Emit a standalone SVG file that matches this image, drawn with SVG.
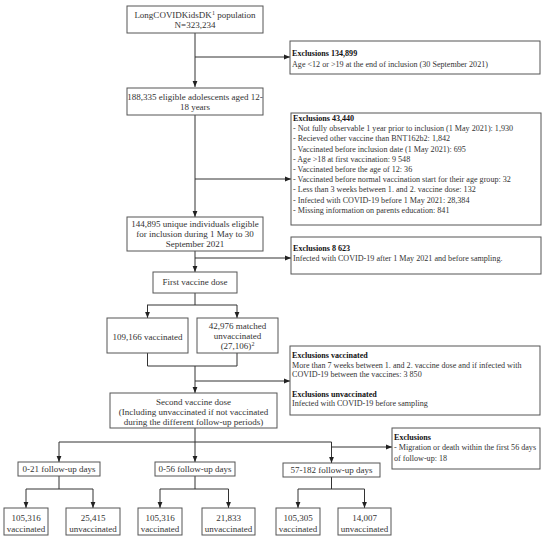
<svg xmlns="http://www.w3.org/2000/svg" width="550" height="542" viewBox="0 0 550 542">
<style>
text{font-family:"Liberation Serif","Times New Roman",serif;font-size:9px;fill:#333}
.x text{font-size:8.1px}
.c{text-anchor:middle}
.b{font-weight:bold;fill:#111}
rect{fill:#fff;stroke:#555;stroke-width:1}
.ln{fill:none;stroke:#333;stroke-width:1}
</style>
<defs>
<marker id="ah" viewBox="0 0 10 10" refX="10" refY="5" markerWidth="6" markerHeight="6" markerUnits="userSpaceOnUse" orient="auto">
<path d="M0,1 L10,5 L0,9 Z" fill="#222"/>
</marker>
</defs>
<rect x="0" y="0" width="550" height="542" style="fill:#fff;stroke:none"/>

<g id="connectors">
<path class="ln" d="M195,33 V87" marker-end="url(#ah)"/>
<path class="ln" d="M195,57 H290" marker-end="url(#ah)"/>
<path class="ln" d="M195,115 V217" marker-end="url(#ah)"/>
<path class="ln" d="M195,179 H291" marker-end="url(#ah)"/>
<path class="ln" d="M195,251 V272" marker-end="url(#ah)"/>
<path class="ln" d="M195,258 H291" marker-end="url(#ah)"/>
<path class="ln" d="M195,293 V305 M147,305 H237"/>
<path class="ln" d="M147.5,305 V318" marker-end="url(#ah)"/>
<path class="ln" d="M237,305 V318" marker-end="url(#ah)"/>
<path class="ln" d="M147.5,353 V366 H237 V353"/>
<path class="ln" d="M195,366 V393" marker-end="url(#ah)"/>
<path class="ln" d="M195,381 H290" marker-end="url(#ah)"/>
<path class="ln" d="M195,428 V442 M59,442 H331.5"/>
<path class="ln" d="M59,442 V462" marker-end="url(#ah)"/>
<path class="ln" d="M195,442 V462" marker-end="url(#ah)"/>
<path class="ln" d="M331.5,442 V463" marker-end="url(#ah)"/>
<path class="ln" d="M331.5,447 H392" marker-end="url(#ah)"/>
<path class="ln" d="M59,476 V489 M26,489 H93"/>
<path class="ln" d="M26,489 V508" marker-end="url(#ah)"/>
<path class="ln" d="M93,489 V508" marker-end="url(#ah)"/>
<path class="ln" d="M195,476 V489 M160,489 H228.5"/>
<path class="ln" d="M160,489 V508" marker-end="url(#ah)"/>
<path class="ln" d="M228.5,489 V508" marker-end="url(#ah)"/>
<path class="ln" d="M331.5,477 V489 M298,489 H364.5"/>
<path class="ln" d="M298,489 V508" marker-end="url(#ah)"/>
<path class="ln" d="M364.5,489 V508" marker-end="url(#ah)"/>
</g>

<g id="population">
<rect x="127" y="6" width="136" height="27"/>
<text class="c" x="195" y="18">LongCOVIDKidsDK<tspan font-size="6" dy="-3">1</tspan><tspan dy="3"> population</tspan></text>
<text class="c" x="195" y="28">N=323,234</text>
</g>

<g id="excl1" class="x">
<rect x="290" y="41" width="250" height="33"/>
<text class="b" x="292" y="56">Exclusions 134,899</text>
<text x="292" y="67">Age &lt;12 or &gt;19 at the end of inclusion (30 September 2021)</text>
</g>

<g id="eligible">
<rect x="127" y="88" width="136" height="27"/>
<text class="c" x="195" y="100">188,335 eligible adolescents aged 12-</text>
<text class="c" x="195" y="110">18 years</text>
</g>

<g id="excl2" class="x">
<rect x="291" y="113" width="250" height="112"/>
<text class="b" x="293" y="121">Exclusions 43,440</text>
<text x="293" y="131.2">- Not fully observable 1 year prior to inclusion (1 May 2021): 1,930</text>
<text x="293" y="141.4">- Recieved other vaccine than BNT162b2: 1,842</text>
<text x="293" y="151.6">- Vaccinated before inclusion date (1 May 2021): 695</text>
<text x="293" y="161.8">- Age &gt;18 at first vaccination: 9 548</text>
<text x="293" y="172">- Vaccinated before the age of 12: 36</text>
<text x="293" y="182.2">- Vaccinated before normal vaccination start for their age group: 32</text>
<text x="293" y="192.4">- Less than 3 weeks between 1. and 2. vaccine dose: 132</text>
<text x="293" y="202.6">- Infected with COVID-19 before 1 May 2021: 28,384</text>
<text x="293" y="212.8">- Missing information on parents education: 841</text>
</g>

<g id="unique">
<rect x="127" y="217" width="136" height="34"/>
<text class="c" x="195" y="227">144,895 unique individuals eligible</text>
<text class="c" x="195" y="237">for inclusion during 1 May to 30</text>
<text class="c" x="195" y="247">September 2021</text>
</g>

<g id="excl3" class="x">
<rect x="291" y="237" width="250" height="37"/>
<text class="b" x="293" y="251">Exclusions 8 623</text>
<text x="293" y="261">Infected with COVID-19 after 1 May 2021 and before sampling.</text>
</g>

<g id="first-dose">
<rect x="153" y="272" width="84" height="21"/>
<text class="c" x="195" y="285">First vaccine dose</text>
</g>

<g id="vaccinated">
<rect x="107" y="318" width="81" height="35"/>
<text class="c" x="147.5" y="340">109,166 vaccinated</text>
</g>

<g id="unvaccinated">
<rect x="197" y="318" width="81" height="35"/>
<text class="c" x="237.5" y="329">42,976 matched</text>
<text class="c" x="237.5" y="339">unvaccinated</text>
<text class="c" x="237.5" y="349">(27,106)<tspan font-size="6" dy="-3">2</tspan></text>
</g>

<g id="excl4" class="x">
<rect x="290" y="346" width="250" height="69"/>
<text class="b" x="292" y="358">Exclusions vaccinated</text>
<text x="292" y="368">More than 7 weeks between 1. and 2. vaccine dose and if infected with</text>
<text x="292" y="377">COVID-19 between the vaccines: 3 850</text>
<text class="b" x="292" y="397">Exclusions unvaccinated</text>
<text x="292" y="406">Infected with COVID-19 before sampling</text>
</g>

<g id="second-dose">
<rect x="110" y="393" width="167" height="35"/>
<text class="c" x="193.5" y="405">Second vaccine dose</text>
<text class="c" x="193.5" y="415">(Including unvaccinated if not vaccinated</text>
<text class="c" x="193.5" y="425">during the different follow-up periods)</text>
</g>

<g id="excl5" class="x">
<rect x="392" y="428" width="148" height="41"/>
<text class="b" x="394" y="440">Exclusions</text>
<text x="394" y="450">- Migration or death within the first 56 days</text>
<text x="394" y="461">of follow-up: 18</text>
</g>

<g id="fu21">
<rect x="18" y="462" width="82" height="14"/>
<text class="c" x="59" y="472">0-21 follow-up days</text>
</g>
<g id="fu56">
<rect x="155" y="462" width="80" height="14"/>
<text class="c" x="195" y="472">0-56 follow-up days</text>
</g>
<g id="fu182">
<rect x="283" y="463" width="97" height="14"/>
<text class="c" x="331.5" y="473">57-182 follow-up days</text>
</g>

<g id="r21v">
<rect x="4" y="508" width="44" height="27"/>
<text class="c" x="26" y="521">105,316</text>
<text class="c" x="26" y="532">vaccinated</text>
</g>
<g id="r21u">
<rect x="66" y="508" width="54" height="27"/>
<text class="c" x="93" y="521">25,415</text>
<text class="c" x="93" y="532">unvaccinated</text>
</g>
<g id="r56v">
<rect x="138" y="508" width="44" height="27"/>
<text class="c" x="160" y="521">105,316</text>
<text class="c" x="160" y="532">vaccinated</text>
</g>
<g id="r56u">
<rect x="202" y="508" width="53" height="27"/>
<text class="c" x="228.5" y="521">21,833</text>
<text class="c" x="228.5" y="532">unvaccinated</text>
</g>
<g id="r182v">
<rect x="276" y="508" width="44" height="27"/>
<text class="c" x="298" y="521">105,305</text>
<text class="c" x="298" y="532">vaccinated</text>
</g>
<g id="r182u">
<rect x="338" y="508" width="53" height="27"/>
<text class="c" x="364.5" y="521">14,007</text>
<text class="c" x="364.5" y="532">unvaccinated</text>
</g>
</svg>
